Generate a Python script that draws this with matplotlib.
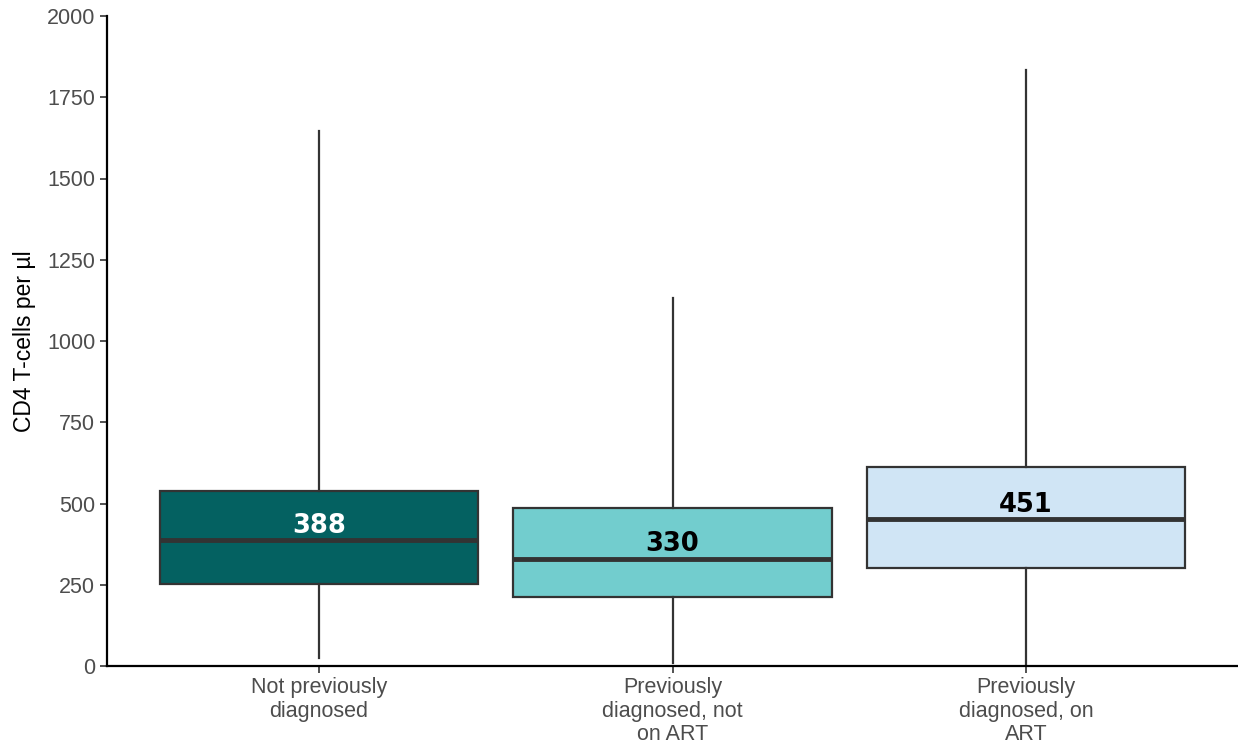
import numpy as np
import matplotlib
matplotlib.use("Agg")
import matplotlib.pyplot as plt

# CD4 counts by diagnosis status
categories = ["Not previously\ndiagnosed", "Previously\ndiagnosed, not\non ART", "Previously\ndiagnosed, on\nART"]
medians = [388, 330, 451]
q1 = [252, 212, 302]
q3 = [538, 486, 613]
whisker_lo = [25, 8, 0]
whisker_hi = [1645, 1132, 1834]
fill_colors = ["#046161", "#72CDCE", "#D0E5F5"]
label_colors = ["white", "black", "black"]

plt.rcParams['font.family'] = ['Liberation Sans', 'DejaVu Sans']

fig = plt.figure(figsize=(12.38, 7.44), dpi=100)
ax = fig.add_axes([107 / 1238, 78 / 744, 1 - 107 / 1238, 650 / 744])

stats = []
for i in range(len(categories)):
    stats.append({
        "med": medians[i], "q1": q1[i], "q3": q3[i],
        "whislo": whisker_lo[i], "whishi": whisker_hi[i],
        "fliers": [], "label": categories[i],
    })

pos = np.arange(1, len(categories) + 1)
bp = ax.bxp(stats, positions=pos, widths=0.9, patch_artist=True, showcaps=False,
            showfliers=False,
            boxprops=dict(edgecolor="#333333", linewidth=1.6),
            whiskerprops=dict(color="#333333", linewidth=1.6),
            medianprops=dict(color="#333333", linewidth=3.5))
for patch, c in zip(bp["boxes"], fill_colors):
    patch.set_facecolor(c)

for x, m, tc in zip(pos, medians, label_colors):
    ax.annotate(str(m), (x, m), xytext=(0, 1), textcoords="offset points",
                ha="center", va="bottom", fontsize=18.5, fontweight="bold",
                color=tc, family="DejaVu Sans")

ax.set_xlim(0.4, 3.6)
ax.set_ylim(0, 2000)
ax.set_yticks(np.arange(0, 2001, 250))
ax.set_ylabel("CD4 T-cells per µl", fontsize=16.5, color="black", labelpad=8)
ax.tick_params(axis="both", labelsize=15.5, labelcolor="#4D4D4D", color="#333333",
               length=5, width=1.2)
ax.tick_params(axis="x", pad=3)
for lbl in ax.get_xticklabels():
    lbl.set_linespacing(1.15)

for s in ["top", "right"]:
    ax.spines[s].set_visible(False)
for s in ["left", "bottom"]:
    ax.spines[s].set_linewidth(1.6)
    ax.spines[s].set_color("black")

fig.savefig("out.png", dpi=100)
